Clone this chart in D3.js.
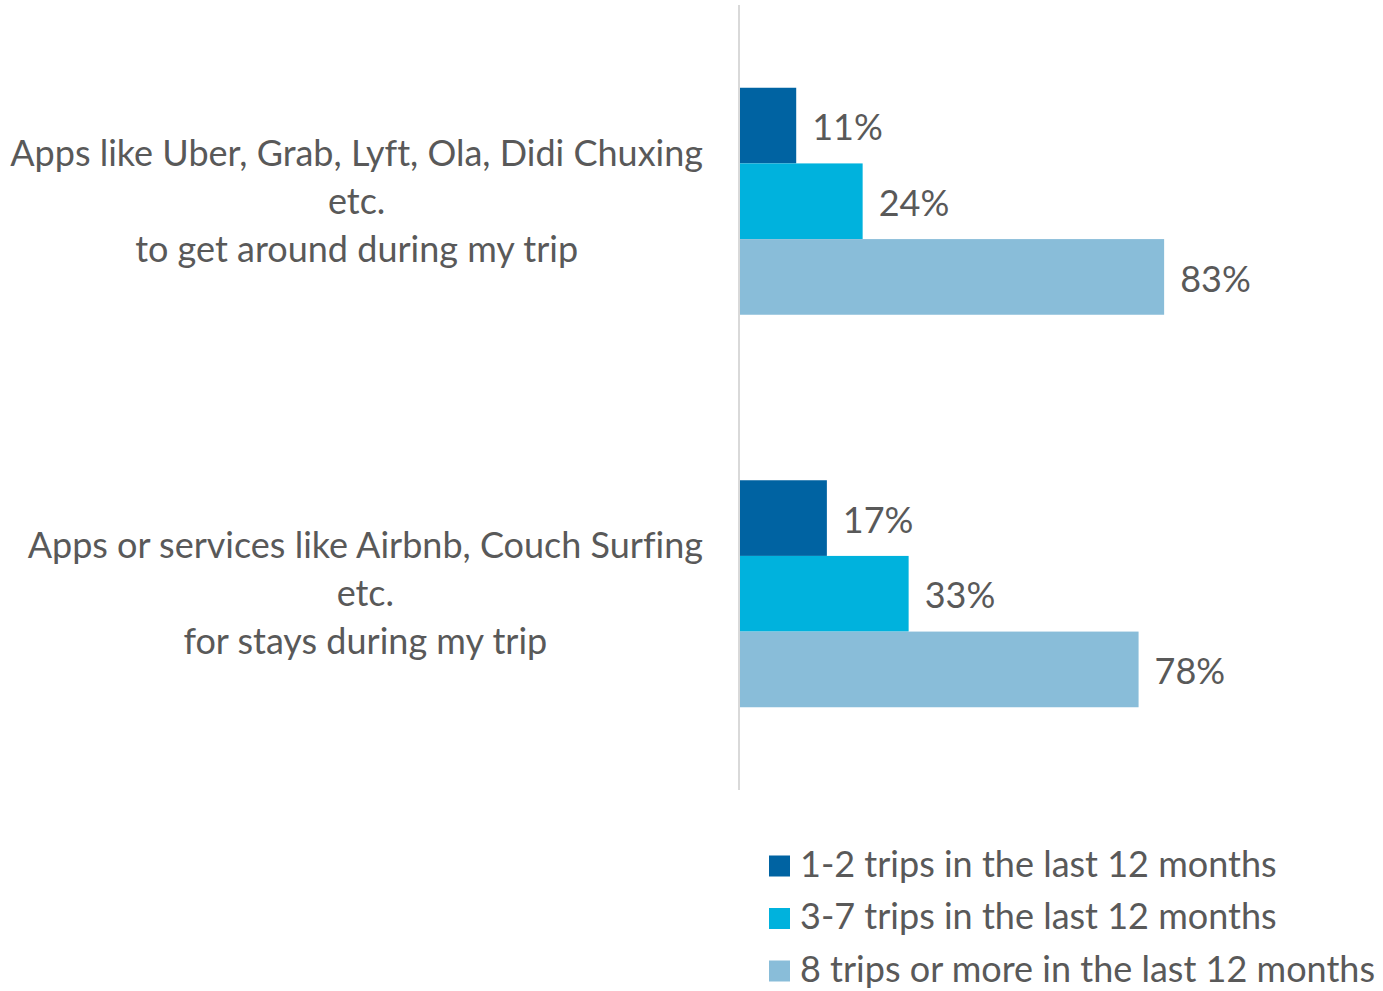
<!DOCTYPE html>
<html>
<head>
<meta charset="utf-8">
<script src="https://cdn.jsdelivr.net/npm/d3@7"></script>
<style>
  body { margin: 0; background: #fff; }
  text { font-family: Lato, "Open Sans", sans-serif; fill: #595959; font-variant-ligatures: none; }
</style>
</head>
<body>
<svg id="chart" width="1383" height="991"></svg>
<script>
// chart data
var categories = [
    ['Apps like Uber, Grab, Lyft, Ola, Didi Chuxing', 'etc.', 'to get around during my trip'],
    ['Apps or services like Airbnb, Couch Surfing', 'etc.', 'for stays during my trip']
];
var seriesNames = [
    '1-2 trips in the last 12 months',
    '3-7 trips in the last 12 months',
    '8 trips or more in the last 12 months'
];
var seriesValues = [
    [0.11, 0.17],
    [0.24, 0.33],
    [0.83, 0.78]
];
var colors = ['#0063A2', '#00B2DD', '#89BDD9'];

var FONT_SIZE = 36;
var AXIS_X = 740;

var svg = d3.select('#chart');

// Scales
var y = d3.scaleBand()
    .domain(d3.range(categories.length))
    .range([5, 790])
    .paddingInner(0)
    .paddingOuter(0);

var x = d3.scaleLinear()
    .domain([0, 1])
    .range([AXIS_X, AXIS_X + 511]);

var barGroupHeight = 227;
var ySeries = d3.scaleBand()
    .domain(d3.range(seriesNames.length))
    .range([0, barGroupHeight]);

// Bars
var groups = svg.selectAll('g.cat')
    .data(categories)
    .enter()
    .append('g')
    .attr('class', 'cat')
    .attr('transform', function(d, i) {
        return 'translate(0,' + (y(i) + y.bandwidth() / 2 - barGroupHeight / 2) + ')';
    });

groups.each(function(cat, ci) {
    var g = d3.select(this);
    seriesValues.forEach(function(vals, si) {
        g.append('rect')
            .attr('x', x(0))
            .attr('y', ySeries(si))
            .attr('width', x(vals[ci]) - x(0))
            .attr('height', ySeries.bandwidth())
            .style('fill', colors[si]);
        g.append('text')
            .attr('x', x(vals[ci]) + 16)
            .attr('y', ySeries(si) + ySeries.bandwidth() / 2 + 2)
            .attr('dy', '0.35em')
            .style('font-size', FONT_SIZE + 'px')
            .text(d3.format('.0%')(vals[ci]));
    });
});

// Vertical axis line
svg.append('line')
    .attr('x1', AXIS_X - 1)
    .attr('x2', AXIS_X - 1)
    .attr('y1', y.range()[0])
    .attr('y2', y.range()[1])
    .style('stroke', '#d9d9d9')
    .style('stroke-width', 2);

// Category labels: lines centred together, block right-aligned near the axis
var LINE_H = 48;
categories.forEach(function(lines, ci) {
    var g = svg.append('g');
    var t = g.append('text')
        .attr('text-anchor', 'middle')
        .style('font-size', FONT_SIZE + 'px');
    lines.forEach(function(line, li) {
        t.append('tspan')
            .attr('x', 0)
            .attr('y', (li - (lines.length - 1) / 2) * LINE_H)
            .attr('dy', '0.35em')
            .text(line);
    });
    var maxW = d3.max(t.selectAll('tspan').nodes(), function(n) { return n.getComputedTextLength(); });
    var cx = 703 - maxW / 2;
    g.attr('transform', 'translate(' + cx + ',' + (y(ci) + y.bandwidth() / 2) + ')');
});

// Legend
var legend = svg.append('g')
    .attr('transform', 'translate(769, 866)');
seriesNames.forEach(function(name, i) {
    var row = legend.append('g')
        .attr('transform', 'translate(0,' + (i * 52.5) + ')');
    row.append('rect')
        .attr('x', 0)
        .attr('y', -10.5)
        .attr('width', 21)
        .attr('height', 21)
        .style('fill', colors[i]);
    row.append('text')
        .attr('x', 31)
        .attr('y', 0)
        .attr('dy', '0.3em')
        .style('font-size', FONT_SIZE + 'px')
        .text(name);
});
</script>
</body>
</html>
